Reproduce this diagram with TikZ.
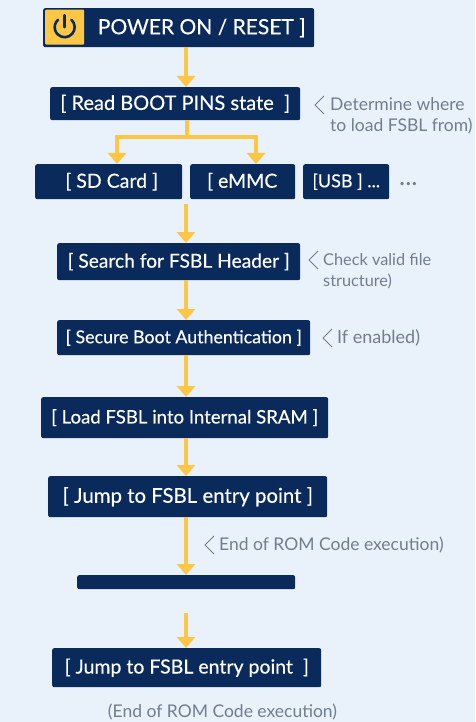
\documentclass[tikz,border=0pt]{standalone}
\usepackage{fontspec}
\setmainfont{Lato}
\newfontfamily\boxfont[FakeBold=0.3]{Lato}
\usetikzlibrary{arrows.meta}
\definecolor{bgc}{HTML}{E9F1FA}
\definecolor{navy}{HTML}{0B2A5C}
\definecolor{amber}{HTML}{FDC644}
\definecolor{note}{HTML}{717E8F}
\tikzset{
  box/.style={fill=navy,rounded corners=2pt,text=white,inner sep=0pt,anchor=north west,align=center},
  arr/.style={draw=amber,line width=4pt,-{Triangle[width=18pt,length=11pt]},shorten >=0pt},
  link/.style={draw=amber,line width=4pt},
  notetxt/.style={text=note,anchor=west,inner sep=0pt,font=\fontsize{17.5}{20}\selectfont,align=left},
  chev/.style={draw=note,line width=0.9pt,line join=round},
}
\newcommand{\bx}[7]{\node[box,minimum width=#3pt,minimum height=#4pt,font=\boxfont\fontsize{#6}{#6}\selectfont] (#5) at (#1pt,-#2pt) {#7};}
\newcommand{\chv}[2]{\draw[chev] (#1pt+9pt,-#2pt+9pt) -- (#1pt,-#2pt) -- (#1pt+9pt,-#2pt-9pt);}
\begin{document}
\begin{tikzpicture}[x=1pt,y=1pt]
\fill[bgc] (0,0) rectangle (475,-722);
\useasboundingbox (0,0) rectangle (475,-722);
\coordinate (spine) at (186,0);
\bx{43}{8}{271}{39}{power}{21}{\hspace*{46pt}POWER ON / RESET ]}
\node[fill=amber,rounded corners=1pt,minimum width=39pt,minimum height=35pt,inner sep=0pt,anchor=north west] (icon) at (45,-9.5) {};
\draw[navy,line width=2.6pt,line cap=round] (icon.center) ++(48:10) arc (48:-228:10);
\draw[navy,line width=2.6pt,line cap=round] ([yshift=12pt]icon.center) -- ([yshift=0pt]icon.center);
\bx{50}{87}{250}{33}{read}{20}{[ Read BOOT PINS state \ ]}
\bx{35}{164}{147}{35}{sd}{19.5}{\hspace*{6pt}[ SD Card ]}
\bx{190}{164}{105}{35}{emmc}{19.5}{\hspace*{10pt}[ eMMC\phantom{ ]}}
\bx{303}{164}{86}{35}{usb}{18}{[USB ] ...}
\bx{57}{243}{243}{37}{search}{19.2}{[ Search for FSBL Header ]}
\bx{57}{320}{253}{35}{secure}{17.8}{[ Secure Boot Authentication ]}
\bx{41}{397}{287}{41}{load}{18.6}{[ Load FSBL into Internal SRAM ]}
\bx{48}{476}{279}{41}{jumpa}{20.4}{[ Jump to FSBL entry point ]}
\node[box,minimum width=218pt,minimum height=14pt] (blank) at (77,-575) {};
\bx{52}{648}{269}{39}{jumpb}{19.5}{[ Jump to FSBL entry point \ ]}
\coordinate (rowout) at (186,-204);
\coordinate (free) at (186,-613);
\coordinate (fork) at (187,-137);
\coordinate (fl) at (117,-137);
\coordinate (fr) at (256,-137);
\draw[arr] (power.south -| spine) -- (read.north -| spine);
\draw[link] (read.south -| fork) -- (fork);
\draw[link,line cap=rect] (fl) -- (fr);
\draw[arr] (fl) -- (sd.north -| fl);
\draw[arr] (fr) -- (emmc.north -| fr);
\draw[arr] (rowout) -- (search.north -| rowout);
\draw[arr] (search.south -| spine) -- (secure.north -| spine);
\draw[arr] (secure.south -| spine) -- (load.north -| spine);
\draw[arr] (load.south -| spine) -- (jumpa.north -| spine);
\draw[arr] (jumpa.south -| spine) -- (blank.north -| spine);
\draw[arr] (free) -- (jumpb.north -| free);
\chv{315}{105}
\node[notetxt] (n1) at (330,-104) {Determine where};
\node[notetxt] (n1b) at (330,-126) {to load FSBL from)};
\node[notetxt,font=\fontsize{26}{26}\selectfont] (dots) at (399,-184) {...};
\chv{309}{260}
\node[notetxt,font=\fontsize{16.3}{20}\selectfont] (n2) at (323,-260) {Check valid file};
\node[notetxt,font=\fontsize{16.3}{20}\selectfont] (n2b) at (323,-281) {structure)};
\chv{323}{338}
\node[notetxt,font=\fontsize{18}{20}\selectfont] (n3) at (337,-338) {If enabled)};
\chv{205}{545}
\node[notetxt] (n4) at (219,-545) {End of ROM Code execution)};
\node[notetxt,anchor=center] (n5) at (222.5,-712) {(End of ROM Code execution)};
\end{tikzpicture}
\end{document}
